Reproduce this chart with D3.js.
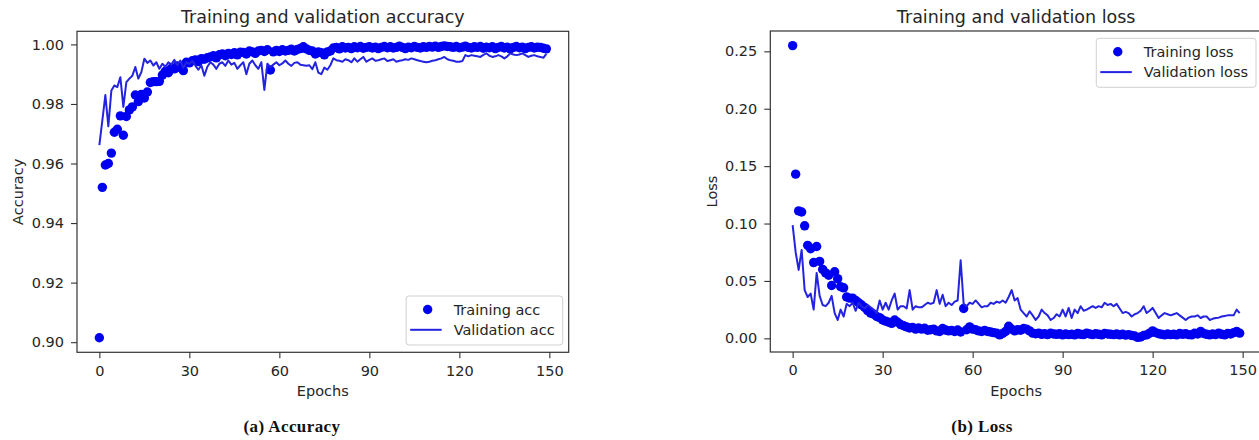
<!DOCTYPE html>
<html><head><meta charset="utf-8">
<script src="https://cdn.jsdelivr.net/npm/d3@7"></script>
<style>body{margin:0;background:#fff} svg{display:block}</style>
</head><body><svg id="c" width="1259" height="440"></svg>
<script>
// ---- data ----
const epochs = d3.range(150);
const trainAcc = [
0.9015,0.9520,0.9595,0.9600,0.9635,0.9705,0.9715,0.9760,0.9695,0.9758,
0.9780,0.9790,0.9830,0.9808,0.9832,0.9820,0.9840,0.9872,0.9875,0.9875,
0.9876,0.9897,0.9910,0.9905,0.9920,0.9918,0.9928,0.9922,0.9912,0.9940,
0.9938,0.9945,0.9948,0.9942,0.9952,0.9950,0.9955,0.9958,0.9962,0.9955,
0.9965,0.9968,0.9962,0.9970,0.9966,0.9972,0.9965,0.9974,0.9973,0.9968,
0.9978,0.9975,0.9970,0.9978,0.9980,0.9976,0.9982,0.9914,0.9975,0.9980,
0.9976,0.9982,0.9978,0.9980,0.9984,0.9978,0.9983,0.9986,0.9992,0.9985,
0.9980,0.9978,0.9968,0.9975,0.9972,0.9965,0.9975,0.9978,0.9988,0.9990,
0.9985,0.9992,0.9988,0.9990,0.9986,0.9992,0.9989,0.9993,0.9987,0.9990,
0.9992,0.9988,0.9991,0.9986,0.9990,0.9993,0.9989,0.9992,0.9988,0.9990,
0.9994,0.9990,0.9986,0.9991,0.9989,0.9993,0.9990,0.9988,0.9992,0.9990,
0.9993,0.9991,0.9994,0.9990,0.9993,0.9995,0.9993,0.9992,0.9990,0.9993,
0.9989,0.9991,0.9994,0.9990,0.9988,0.9992,0.9990,0.9993,0.9987,0.9991,
0.9989,0.9992,0.9986,0.9990,0.9993,0.9988,0.9991,0.9985,0.9990,0.9993,
0.9989,0.9991,0.9986,0.9990,0.9992,0.9988,0.9991,0.9990,0.9987,0.9985];
const valAcc = [
0.9662,0.9745,0.9830,0.9725,0.9845,0.9862,0.9857,0.9890,0.9790,0.9873,
0.9885,0.9895,0.9924,0.9885,0.9907,0.9952,0.9938,0.9946,0.9929,0.9940,
0.9918,0.9935,0.9925,0.9940,0.9932,0.9948,0.9930,0.9946,0.9922,0.9940,
0.9935,0.9944,0.9929,0.9915,0.9930,0.9895,0.9925,0.9940,0.9932,0.9918,
0.9935,0.9940,0.9928,0.9946,0.9932,0.9938,0.9918,0.9930,0.9940,0.9900,
0.9935,0.9946,0.9930,0.9918,0.9940,0.9847,0.9935,0.9924,0.9932,0.9940,
0.9930,0.9936,0.9946,0.9935,0.9928,0.9938,0.9940,0.9932,0.9930,0.9928,
0.9930,0.9917,0.9940,0.9905,0.9900,0.9922,0.9915,0.9930,0.9953,0.9947,
0.9945,0.9942,0.9950,0.9947,0.9940,0.9953,0.9942,0.9950,0.9958,0.9942,
0.9948,0.9953,0.9945,0.9947,0.9950,0.9953,0.9944,0.9947,0.9950,0.9942,
0.9945,0.9947,0.9950,0.9948,0.9953,0.9950,0.9947,0.9944,0.9942,0.9940,
0.9942,0.9945,0.9947,0.9950,0.9953,0.9958,0.9950,0.9947,0.9945,0.9942,
0.9942,0.9944,0.9964,0.9960,0.9964,0.9962,0.9960,0.9958,0.9965,0.9970,
0.9962,0.9958,0.9960,0.9964,0.9960,0.9953,0.9960,0.9970,0.9966,0.9964,
0.9966,0.9970,0.9964,0.9958,0.9962,0.9964,0.9960,0.9958,0.9955,0.9968];
const trainLoss = [
0.255,0.143,0.111,0.110,0.098,0.081,0.078,0.066,0.080,0.067,
0.060,0.057,0.055,0.046,0.058,0.052,0.045,0.044,0.036,0.035,
0.035,0.033,0.031,0.029,0.027,0.024,0.022,0.021,0.019,0.018,
0.016,0.015,0.014,0.013,0.016,0.014,0.012,0.011,0.010,0.009,
0.0095,0.008,0.009,0.008,0.0088,0.007,0.0075,0.008,0.0065,0.006,
0.0085,0.0072,0.0065,0.0068,0.006,0.0072,0.0055,0.026,0.0075,0.010,
0.008,0.0075,0.0065,0.006,0.0068,0.006,0.0055,0.005,0.0045,0.003,
0.0042,0.006,0.0105,0.008,0.0065,0.0075,0.007,0.0085,0.008,0.0065,
0.0045,0.004,0.0045,0.0035,0.004,0.0032,0.0045,0.0038,0.0035,0.004,
0.003,0.0038,0.0032,0.0035,0.003,0.0042,0.0035,0.0032,0.0045,0.0038,
0.0032,0.004,0.0035,0.003,0.0042,0.0038,0.0035,0.0032,0.0038,0.003,
0.0035,0.0028,0.0032,0.0025,0.002,0.0008,0.0012,0.0025,0.003,0.0045,
0.0065,0.005,0.004,0.0035,0.003,0.0038,0.0032,0.0035,0.003,0.0042,
0.0035,0.004,0.0032,0.003,0.0045,0.0038,0.006,0.0042,0.0035,0.003,
0.0038,0.0032,0.0045,0.0035,0.003,0.0042,0.0038,0.005,0.006,0.0045];
const valLoss = [
0.0987,0.075,0.0596,0.077,0.042,0.036,0.039,0.025,0.057,0.037,
0.029,0.028,0.031,0.037,0.022,0.016,0.025,0.019,0.030,0.028,
0.031,0.024,0.031,0.028,0.026,0.029,0.027,0.025,0.022,0.033,
0.025,0.031,0.025,0.033,0.039,0.025,0.028,0.028,0.026,0.042,
0.025,0.028,0.027,0.027,0.029,0.031,0.030,0.031,0.042,0.030,
0.038,0.028,0.031,0.029,0.032,0.033,0.068,0.030,0.028,0.031,
0.030,0.033,0.030,0.027,0.028,0.028,0.031,0.030,0.032,0.031,
0.033,0.031,0.036,0.042,0.033,0.035,0.025,0.022,0.019,0.0235,
0.020,0.016,0.019,0.025,0.022,0.020,0.016,0.0177,0.021,0.019,
0.025,0.019,0.0265,0.0177,0.025,0.022,0.028,0.024,0.025,0.0265,
0.028,0.0265,0.028,0.027,0.031,0.029,0.030,0.028,0.030,0.026,
0.022,0.023,0.022,0.019,0.021,0.022,0.024,0.028,0.022,0.024,
0.0265,0.022,0.0177,0.020,0.022,0.021,0.020,0.021,0.022,0.020,
0.018,0.016,0.018,0.019,0.019,0.020,0.0177,0.019,0.019,0.016,
0.017,0.0177,0.018,0.019,0.0195,0.020,0.020,0.020,0.025,0.022];
const xTicks = [0,30,60,90,120,150];
const accTicks = [0.90,0.92,0.94,0.96,0.98,1.00];
const lossTicks = [0.00,0.05,0.10,0.15,0.20,0.25];
const titles = ["Training and validation accuracy","Training and validation loss"];
const yLabels = ["Accuracy","Loss"];
const captions = ["(a) Accuracy","(b) Loss"];
const accLegend = ["Training acc","Validation acc"];
const lossLegend = ["Training loss","Validation loss"];

// ---- drawing ----
const svg = d3.select("#c");
svg.append("rect").attr("width",1259).attr("height",440).attr("fill","#fff");
const FONT = "DejaVu Sans";
const TXT = "#262626";
const DOT = "#0000f0", LINE = "#2323e0";
const R = 4.7;

const panels = [
  {x0:77, x1:568.7, y0:31.3, y1:352.3, train:trainAcc, val:valAcc, ticks:accTicks,
   title:titles[0], ylab:yLabels[0], cap:captions[0], capX:292, ylabX:23, leg:accLegend, legPos:"lr"},
  {x0:770.3, x1:1262, y0:31, y1:352, train:trainLoss, val:valLoss, ticks:lossTicks,
   title:titles[1], ylab:yLabels[1], cap:captions[1], capX:982, ylabX:717, leg:lossLegend, legPos:"ur"}
];

panels.forEach(p => {
  const all = p.train.concat(p.val);
  const [lo, hi] = d3.extent(all);
  const pad = (hi - lo) * 0.05;
  const x = d3.scaleLinear().domain([-7.45, 156.45]).range([p.x0, p.x1]);
  const y = d3.scaleLinear().domain([lo - pad, hi + pad]).range([p.y1, p.y0]);
  const g = svg.append("g");

  // markers (training)
  g.append("g").selectAll("circle").data(epochs).join("circle")
    .attr("cx", d => x(d)).attr("cy", d => y(p.train[d])).attr("r", R).attr("fill", DOT);
  // line (validation)
  g.append("path").datum(epochs)
    .attr("d", d3.line().x(d => x(d)).y(d => y(p.val[d])))
    .attr("fill","none").attr("stroke", LINE).attr("stroke-width", 2).attr("stroke-linejoin","round");

  // axes
  const xa = g.append("g").attr("transform", `translate(0,${p.y1})`)
    .call(d3.axisBottom(x).tickValues(xTicks).tickFormat(d3.format("d")).tickSize(6).tickPadding(7));
  const ya = g.append("g").attr("transform", `translate(${p.x0},0)`)
    .call(d3.axisLeft(y).tickValues(p.ticks).tickFormat(d3.format(".2f")).tickSize(6).tickPadding(7));
  [xa, ya].forEach(a => {
    a.select(".domain").remove();
    a.selectAll(".tick line").attr("stroke","#333").attr("stroke-width",1.1);
    a.selectAll(".tick text").attr("fill",TXT).style("font-family",FONT).style("font-size","14.5px");
  });
  // frame
  g.append("rect").attr("x",p.x0).attr("y",p.y0).attr("width",p.x1-p.x0).attr("height",p.y1-p.y0)
    .attr("fill","none").attr("stroke","#333").attr("stroke-width",1.2);

  // title
  g.append("text").attr("x",(p.x0+p.x1)/2).attr("y",23).attr("text-anchor","middle")
    .attr("fill",TXT).style("font-family",FONT).style("font-size","17.5px").text(p.title);
  // x label
  g.append("text").attr("x",(p.x0+p.x1)/2).attr("y",395.5).attr("text-anchor","middle")
    .attr("fill",TXT).style("font-family",FONT).style("font-size","14.5px").text("Epochs");
  // y label
  g.append("text").attr("transform",`translate(${p.ylabX},${(p.y0+p.y1)/2}) rotate(-90)`)
    .attr("text-anchor","middle").attr("fill",TXT).style("font-family",FONT).style("font-size","14.5px").text(p.ylab);
  // caption
  g.append("text").attr("x",p.capX).attr("y",432).attr("text-anchor","middle")
    .attr("fill","#111").style("font-family","Liberation Serif").style("font-weight","bold")
    .style("font-size","17px").style("letter-spacing","0.4px").text(p.cap);

  // legend
  const lg = g.append("g");
  const box = lg.append("rect");
  const texts = lg.selectAll("text").data(p.leg).join("text")
    .attr("fill",TXT).style("font-family",FONT).style("font-size","14.5px").text(d => d);
  let tw = 0; texts.each(function(){ tw = Math.max(tw, this.getComputedTextLength()); });
  const w = 47.5 + tw + 8, h = 49;
  const bx = p.x1 - 6 - w;
  const by = p.legPos === "ur" ? p.y0 + 7.3 : p.y1 - 7.3 - h;
  box.attr("x",bx).attr("y",by).attr("width",w).attr("height",h).attr("rx",3)
    .attr("fill","#fff").attr("fill-opacity",0.8).attr("stroke","#d0d0d0").attr("stroke-width",1);
  const rows = [by + 13.5, by + 33.8];
  texts.attr("x", bx + 47.5).attr("y", (d,i) => rows[i]).attr("dy","0.36em");
  lg.append("circle").attr("cx", bx + 21.5).attr("cy", rows[0]).attr("r",R).attr("fill",DOT);
  lg.append("line").attr("x1", bx + 4).attr("x2", bx + 35.5).attr("y1", rows[1]).attr("y2", rows[1])
    .attr("stroke", LINE).attr("stroke-width",2);
});
</script></body></html>
